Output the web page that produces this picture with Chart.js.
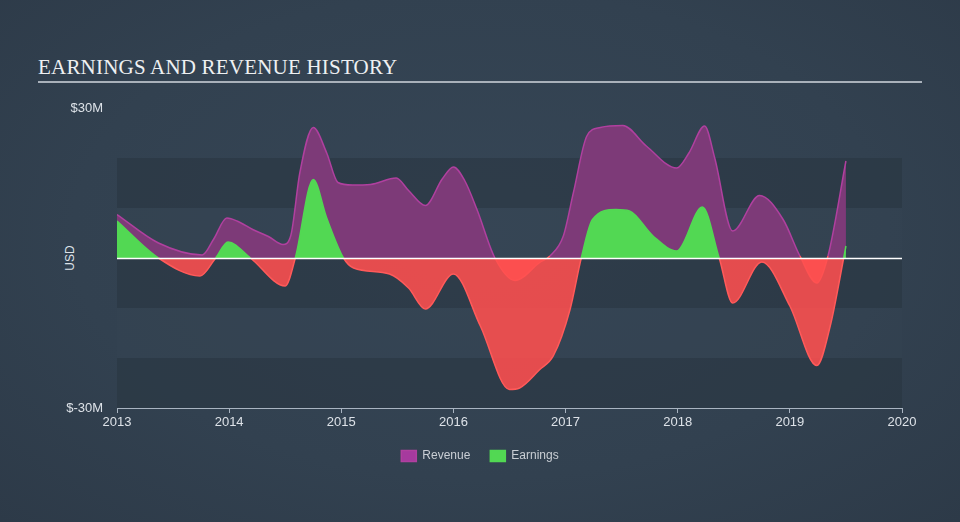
<!DOCTYPE html>
<html>
<head>
<meta charset="utf-8">
<script src="https://cdn.jsdelivr.net/npm/chart.js@4/dist/chart.umd.min.js"></script>
<style>
  html, body { margin: 0; padding: 0; }
  body {
    width: 960px; height: 522px; overflow: hidden; position: relative;
    background: radial-gradient(ellipse at 50% 45%, #364656 0%, #324150 60%, #2d3a48 100%);
  }
  #title {
    position: absolute; left: 38px; top: 55px;
    font-family: "Liberation Serif", "DejaVu Serif", serif; font-size: 21px;
    color: #eef0f2; letter-spacing: 0.2px;
  }
  #rule { position: absolute; left: 38px; top: 81px; width: 884px; height: 2px; background: #a9b1ba; }
  #usd {
    position: absolute; left: 52px; top: 251px; width: 36px; text-align: center;
    font-family: "Liberation Sans", Arial, sans-serif; font-size: 12px; color: #dde2e8;
    transform: rotate(-90deg);
  }
  #wrap { position: absolute; left: 0; top: 0; width: 960px; height: 522px; }
</style>
</head>
<body>
<div id="title">EARNINGS AND REVENUE HISTORY</div>
<div id="rule"></div>
<div id="usd">USD</div>
<div id="wrap"><canvas id="chart" width="960" height="522"></canvas></div>
<script>
// values in $M, x in decimal years
var revYears = [2013.0, 2013.37, 2013.76, 2013.86, 2013.98, 2014.08, 2014.21, 2014.35, 2014.48, 2014.55, 2014.63, 2014.75, 2014.87, 2014.97, 2015.1, 2015.26, 2015.49, 2015.6, 2015.75, 2015.9, 2016.0, 2016.1, 2016.21, 2016.37, 2016.55, 2016.77, 2016.86, 2016.98, 2017.07, 2017.19, 2017.31, 2017.51, 2017.72, 2017.99, 2018.1, 2018.24, 2018.33, 2018.49, 2018.73, 2018.94, 2019.09, 2019.24, 2019.34, 2019.5];
var revValues = [8.7, 3.0, 0.6, 3.7, 8.0, 7.3, 5.7, 4.3, 2.7, 4.5, 17, 26.1, 21, 15.1, 14.6, 14.7, 16.0, 13.5, 10.5, 15.8, 18.2, 15.5, 9.7, 0, -4.5, -0.9, 0.4, 4.4, 13.1, 24.4, 26.1, 26.5, 22.4, 18.0, 21, 26.4, 20, 5.4, 12.5, 7.7, 0.4, -5.0, 0.4, 19.4];

var earnYears = [2013.0, 2013.37, 2013.74, 2013.88, 2013.99, 2014.19, 2014.5, 2014.59, 2014.75, 2014.87, 2015.02, 2015.11, 2015.43, 2015.6, 2015.75, 2016.0, 2016.24, 2016.5, 2016.59, 2016.77, 2016.89, 2017.04, 2017.14, 2017.24, 2017.45, 2017.57, 2017.78, 2017.99, 2018.22, 2018.37, 2018.49, 2018.75, 2019.0, 2019.24, 2019.36, 2019.48, 2019.5];
var earnValues = [7.4, 0, -3.6, 0, 3.2, 0, -5.6, 0, 15.7, 8, 0, -2.0, -3.2, -6, -10.2, -3.2, -13.6, -26.3, -26, -22.3, -19.6, -10.3, 0, 7.7, 9.7, 9.4, 4.4, 1.4, 10.2, 0, -9.0, -0.8, -9.6, -21.5, -13.6, 0, 2.4];

var yearTicks = [2013, 2014, 2015, 2016, 2017, 2018, 2019, 2020];
var bandEdges = [20, 10, 0, -10, -20, -30];

function toPoints(xs, ys) {
  var pts = [];
  for (var i = 0; i < xs.length; i++) pts.push({ x: xs[i], y: ys[i] });
  return pts;
}

var RED = 'rgba(255,80,80,0.88)';
var GREEN = '#52d853';

// alternating background bands + white zero line
var bandsPlugin = {
  id: 'bands',
  beforeDatasetsDraw: function (chart) {
    var ctx = chart.ctx, area = chart.chartArea, y = chart.scales.y;
    ctx.save();
    for (var i = 0; i < bandEdges.length - 1; i++) {
      var y0 = y.getPixelForValue(bandEdges[i]);
      var y1 = y.getPixelForValue(bandEdges[i + 1]);
      ctx.fillStyle = (i % 2 === 0) ? 'rgba(40,52,64,0.55)' : 'rgba(54,68,83,0.35)';
      ctx.fillRect(area.left, y0, area.right - area.left, y1 - y0);
    }
    ctx.restore();
  },
  afterDatasetsDraw: function (chart) {
    var ctx = chart.ctx, area = chart.chartArea;
    var zy = Math.round(chart.scales.y.getPixelForValue(0)) + 0.5;
    ctx.save();
    ctx.strokeStyle = '#ffffff';
    ctx.lineWidth = 1.5;
    ctx.beginPath();
    ctx.moveTo(area.left, zy);
    ctx.lineTo(area.right, zy);
    ctx.stroke();
    ctx.restore();
  }
};

var ctx = document.getElementById('chart').getContext('2d');
var chart = new Chart(ctx, {
  type: 'line',
  data: {
    datasets: [
      {
        label: 'Revenue',
        data: toPoints(revYears, revValues),
        order: 1,
        borderColor: '#b0409f',
        backgroundColor: '#a63a9e',
        borderWidth: 1.5,
        pointRadius: 0,
        cubicInterpolationMode: 'monotone',
        fill: { target: 'origin', above: 'rgba(125,58,120,1)', below: RED },
        segment: {
          borderColor: function (c) { return (c.p0.parsed.y < 0 || c.p1.parsed.y < 0) ? '#ff5a5a' : '#b0409f'; }
        }
      },
      {
        label: 'Earnings',
        data: toPoints(earnYears, earnValues),
        order: 0,
        borderColor: GREEN,
        backgroundColor: GREEN,
        borderWidth: 1.5,
        pointRadius: 0,
        cubicInterpolationMode: 'monotone',
        fill: { target: 'origin', above: GREEN, below: RED },
        segment: {
          borderColor: function (c) { return (c.p0.parsed.y < 0 || c.p1.parsed.y < 0) ? '#ff5a5a' : GREEN; }
        }
      }
    ]
  },
  options: {
    responsive: false,
    animation: false,
    layout: { padding: { top: 108, left: 0, right: 0, bottom: 50 } },
    scales: {
      x: {
        type: 'linear',
        min: 2013, max: 2020,
        afterFit: function (s) { s.height = 22; },
        afterBuildTicks: function (s) { s.ticks = yearTicks.map(function (v) { return { value: v }; }); },
        ticks: {
          color: '#dde2e8', padding: 2,
          font: { family: '"Liberation Sans", Arial, sans-serif', size: 13 },
          callback: function (v) { return String(v); }
        },
        grid: { drawOnChartArea: false, drawTicks: true, tickLength: 5, color: '#a9b4c1', lineWidth: 1 },
        border: { display: true, color: '#a9b4c1', width: 1 }
      },
      y: {
        min: -30, max: 30,
        afterFit: function (s) { s.width = 117; },
        ticks: {
          stepSize: 10, color: '#dde2e8', padding: 14,
          font: { family: '"Liberation Sans", Arial, sans-serif', size: 13 },
          callback: function (v) { return v === 30 ? '$30M' : (v === -30 ? '$-30M' : ''); }
        },
        grid: { display: false, drawTicks: false },
        border: { display: false }
      },
      // empty right-hand axis that only reserves the right margin
      yRight: {
        position: 'right',
        min: -30, max: 30,
        afterFit: function (s) { s.width = 58; },
        ticks: { display: false },
        grid: { display: false, drawTicks: false },
        border: { display: false }
      }
    },
    plugins: {
      legend: {
        position: 'bottom',
        labels: {
          boxWidth: 15, boxHeight: 11, padding: 20,
          color: '#c9ced4',
          font: { family: '"Liberation Sans", Arial, sans-serif', size: 12 },
          sort: function (a, b) { return a.datasetIndex - b.datasetIndex; }
        }
      },
      tooltip: { enabled: false }
    }
  },
  plugins: [bandsPlugin]
});
</script>
</body>
</html>
